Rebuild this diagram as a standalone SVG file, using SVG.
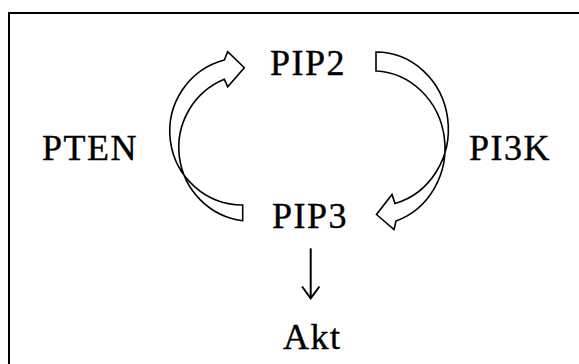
<svg xmlns="http://www.w3.org/2000/svg" width="579" height="364" viewBox="0 0 579 364">
<style>
.t{font-family:"Liberation Serif","Times New Roman",serif;font-size:36px;fill:#000;stroke:#000;stroke-width:0.4;letter-spacing:1.5px}
.arr{fill:#fff;stroke:#000;stroke-width:1.6;stroke-linejoin:miter}
.ln{fill:none;stroke:#000;stroke-width:2}
</style>
<rect x="0" y="0" width="579" height="364" fill="#fff"/>
<rect x="9" y="13" width="620" height="400" fill="none" stroke="#000" stroke-width="2"/>
<g id="PIP2"><text class="t" x="270" y="75">PIP2</text></g>
<g id="PIP3"><text class="t" x="272" y="228">PIP3</text></g>
<g id="PTEN"><text class="t" x="42" y="160" letter-spacing="2.5">PTEN</text></g>
<g id="PI3K"><text class="t" x="469" y="160">PI3K</text></g>
<g id="Akt"><text class="t" x="283" y="349">Akt</text></g>
<g id="connectors">
<path class="arr" d="M242.7,205 A73,73.7 0 0 1 224.3,60 L227.7,51.7 L244.3,67.7 L227.7,86.7 L224.3,79.3 A73,73.7 0 0 0 242.7,220.7 Z"/>
<path class="arr" d="M376,52 A72.3,77.1 0 0 1 395,203.5 L392,194.5 L376.5,214.5 L394,229.5 L396,221 A72.3,77.1 0 0 0 376,71 Z"/>
<path class="ln" d="M310.7,248.3 V298"/>
<path class="ln" d="M302,286.5 L310.7,298.3 L319.4,286.5"/>
</g>
</svg>
